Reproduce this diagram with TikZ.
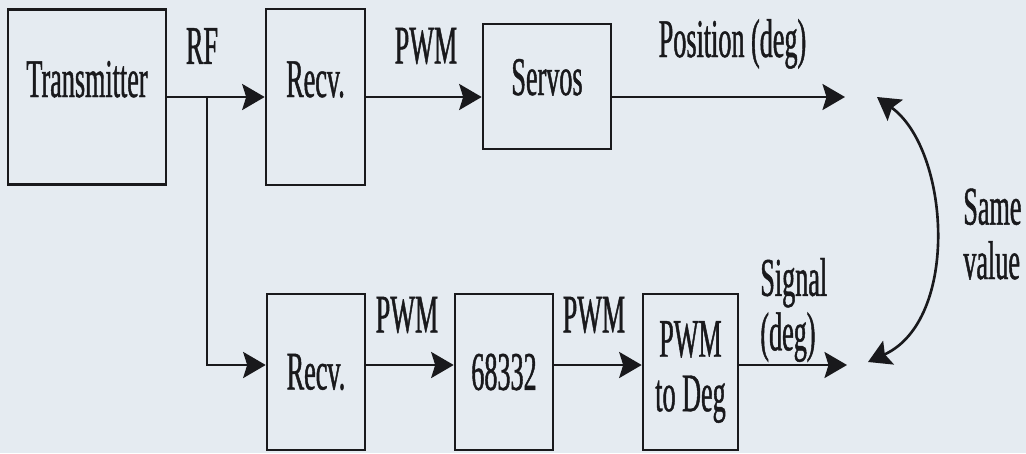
\documentclass[tikz,border=0pt]{standalone}
\usepackage{fontspec}
\setmainfont[FakeStretch=0.48, FakeBold=0.8]{Liberation Serif}
\usepackage{xcolor}
\usepackage{tikz}
\usetikzlibrary{arrows.meta, positioning, calc}

\definecolor{paper}{RGB}{229,235,241}
\definecolor{ink}{RGB}{25,25,28}

\begin{document}
\begin{tikzpicture}[
  every node/.style={font=\fontsize{31}{31}\selectfont, text=ink},
  blk/.style={rectangle, draw=ink, line width=1.5pt, inner sep=0pt,
              align=center},
  toprow/.style={blk, text height=0.3cm, text depth=0.3cm},
  lbl/.style={inner sep=0pt},
  arr/.style={-{Stealth[length=0.45cm, width=0.52cm, inset=0.08cm]},
              line width=1.5pt, draw=ink},
  darr/.style={{Stealth[length=0.45cm, width=0.52cm, inset=0.08cm]}-{Stealth[length=0.45cm, width=0.52cm, inset=0.08cm]},
               line width=1.5pt, draw=ink},
]
  \useasboundingbox[fill=paper] (0,0) rectangle (20.52,-9.06);

  % ── Upper chain ──────────────────────────────────
  \node[toprow, minimum width=3.16cm, minimum height=3.5cm]  (tx)    at (1.74,-1.94)  {Transmitter};
  \node[toprow, minimum width=1.98cm, minimum height=3.52cm] (rxA)   at (6.31,-1.94)  {Recv.};
  \node[blk, minimum width=2.56cm, minimum height=2.5cm,
        text height=0.64cm, text depth=0.3cm]                (servo) at (10.94,-1.73) {Servos};

  % ── Lower chain ──────────────────────────────────
  \node[blk, minimum width=1.96cm, minimum height=3.12cm] (rxB) at (6.32,-7.44)  {Recv.};
  \node[blk, minimum width=1.96cm, minimum height=3.12cm] (cpu) at (10.08,-7.44) {68332};
  \node[blk, minimum width=1.90cm, minimum height=3.12cm] (deg) at (13.81,-7.44) {PWM\\to Deg};

  % ── Helper points ────────────────────────────────
  \coordinate (split)  at (4.14,-1.94);
  \coordinate (lowrow) at (0,-7.30);
  \coordinate (outA)   at (16.90,-1.94);
  \coordinate (outB)   at (16.94,-7.30);
  \coordinate (sameA)  at (17.54,-1.94);
  \coordinate (sameB)  at (17.36,-7.24);

  % ── Connectors ───────────────────────────────────
  \draw[arr] (tx) -- (rxA);
  \draw[arr] (rxA) -- (servo.west |- rxA);
  \draw[arr] (servo.east |- rxA) -- (outA);
  \draw[arr] (split) |- (rxB.west |- lowrow);
  \draw[arr] (rxB.east |- lowrow) -- (cpu.west |- lowrow);
  \draw[arr] (cpu.east |- lowrow) -- (deg.west |- lowrow);
  \draw[arr] (deg.east |- lowrow) -- (outB);
  \draw[darr] (sameA) .. controls (19.0,-3.0) and (19.2,-6.4) .. (sameB);

  % ── Signal labels ────────────────────────────────
  \node[lbl] (lrf)   at (4.04,-0.92) {RF};
  \node[lbl] (lpwmA) at (8.52,-0.92) {PWM};
  \node[lbl, anchor=base] (lpos) at (14.65,-1.14) {Position (deg)};
  \node[lbl] (lpwmB) at (8.14,-6.30)  {PWM};
  \node[lbl] (lpwmC) at (11.88,-6.30) {PWM};
  \node[lbl, anchor=west, align=left] (lsig)  at (15.20,-6.20) {Signal\\(deg)};
  \node[lbl, anchor=west, align=left] (lsame) at (19.26,-4.68) {Same\\value};

\end{tikzpicture}
\end{document}
